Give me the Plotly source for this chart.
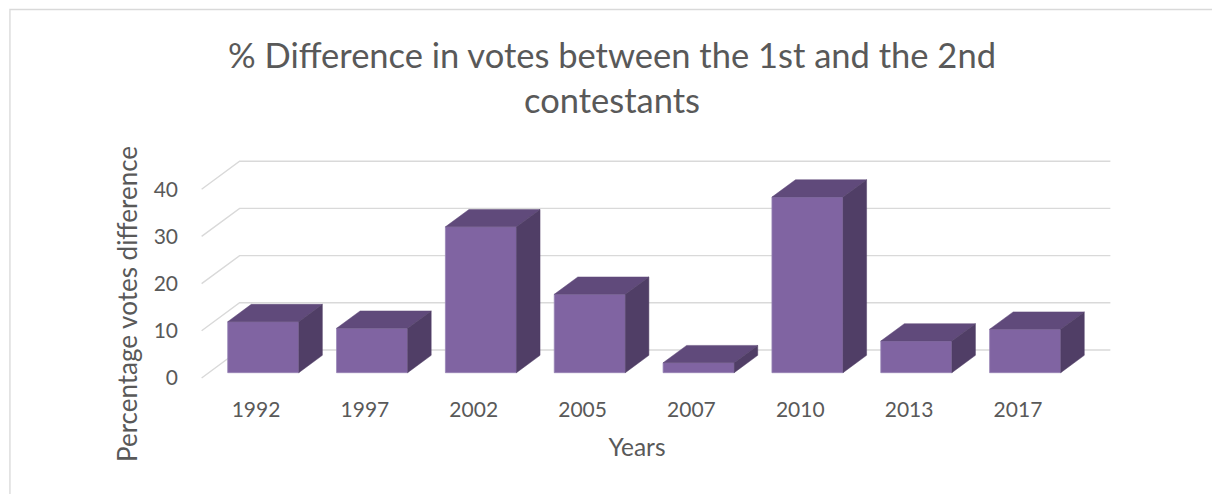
import plotly.graph_objects as go

# ---- data ----
years = ["1992", "1997", "2002", "2005", "2007", "2010", "2013", "2017"]
diff_pct = [10.8, 9.4, 30.9, 16.6, 2.1, 37.2, 6.7, 9.2]
y_ticks = [0, 10, 20, 30, 40]

# ---- pseudo-3D geometry (data units) ----
WALL_DX = 0.349   # depth offset of back wall along x (category units)
WALL_DY = 5.93    # depth offset of back wall along y (value units)
BAR_F0, BAR_F1 = 0.19, 0.81   # bar front/back depth fraction
BAR_W = 0.653

FRONT = "#8064A2"
TOP = "#604A7B"
SIDE = "#503E66"
GRID = "#D9D9D9"
TXT = "#595959"
FONT = "Lato"

xpos = list(range(len(years)))
x_lo, x_hi = -0.5, len(years) - 0.5

fig = go.Figure()

# gridlines on side + back wall (as shapes under the bars)
for t in y_ticks:
    path = (f"M {x_lo},{t} L {x_lo + WALL_DX},{t + WALL_DY} "
            f"L {x_hi + WALL_DX},{t + WALL_DY}")
    fig.add_shape(type="path", path=path, xref="x", yref="y",
                  line=dict(color=GRID, width=1.4), layer="below")

base = BAR_F0 * WALL_DY
bdx = (BAR_F1 - BAR_F0) * WALL_DX
bdy = (BAR_F1 - BAR_F0) * WALL_DY
xc = [i + BAR_F0 * WALL_DX for i in xpos]

# front faces
fig.add_trace(go.Bar(x=xc, y=diff_pct, base=[base] * len(xc), width=BAR_W,
                     marker=dict(color=FRONT, line=dict(color="#9784B5", width=0.8)),
                     hoverinfo="skip", showlegend=False))

# top and side faces
top_x, top_y, side_x, side_y = [], [], [], []
for c, v in zip(xc, diff_pct):
    xl, xr = c - BAR_W / 2, c + BAR_W / 2
    tp = base + v
    top_x += [xl, xl + bdx, xr + bdx, xr, xl, None]
    top_y += [tp, tp + bdy, tp + bdy, tp, tp, None]
    side_x += [xr, xr + bdx, xr + bdx, xr, xr, None]
    side_y += [base, base + bdy, tp + bdy, tp, base, None]

fig.add_trace(go.Scatter(x=top_x, y=top_y, mode="lines", fill="toself",
                         fillcolor=TOP, line=dict(color=TOP, width=0.5),
                         hoverinfo="skip", showlegend=False))
fig.add_trace(go.Scatter(x=side_x, y=side_y, mode="lines", fill="toself",
                         fillcolor=SIDE, line=dict(color=SIDE, width=0.5),
                         hoverinfo="skip", showlegend=False))

# layout (pixel mapping: category step 108.8px, 4.72px per unit)
L, R = 160, 1113.6
T, B = 150, 458
PX_X, PX_Y = 108.8, 4.72
X0_PX, Y0_PX = 256, 378
xr_ = [(L - X0_PX) / PX_X, (R - X0_PX) / PX_X]
yr_ = [(Y0_PX - B) / PX_Y, (Y0_PX - T) / PX_Y]

fig.update_layout(
    width=1212, height=494,
    margin=dict(l=L, r=1212 - R, t=T, b=494 - B),
    paper_bgcolor="white", plot_bgcolor="white",
    font=dict(family=FONT, color=TXT),
    title=dict(text="% Difference in votes between the 1st and the 2nd<br>contestants",
               x=612 / 1212, xanchor="center", xref="container",
               y=1 - 68 / 494, yanchor="middle", yref="container",
               font=dict(size=34.5, color=TXT, family=FONT)),
    xaxis=dict(range=xr_, tickvals=xpos, ticktext=years, showgrid=False,
               zeroline=False, showline=False, ticks="",
               anchor="free", position=(B - 395) / (B - T),
               tickfont=dict(size=21, color=TXT),
               title=dict(text="Years", font=dict(size=24.5, color=TXT), standoff=18)),
    yaxis=dict(range=yr_, tickvals=y_ticks, showgrid=False, zeroline=False,
               showline=False, ticks="", ticklabelstandoff=-19,
               tickfont=dict(size=21, color=TXT),
               title=dict(text="Percentage votes difference",
                          font=dict(size=26, color=TXT), standoff=8)),
)

# chart border (top and left edges visible)
fig.add_shape(type="rect", xref="paper", yref="paper",
              x0=(10 - L) / (R - L), x1=(1230 - L) / (R - L),
              y0=(B - 510) / (B - T), y1=(B - 9.5) / (B - T),
              line=dict(color=GRID, width=1.3), fillcolor="rgba(0,0,0,0)",
              layer="below")

fig.write_html("out.html")
